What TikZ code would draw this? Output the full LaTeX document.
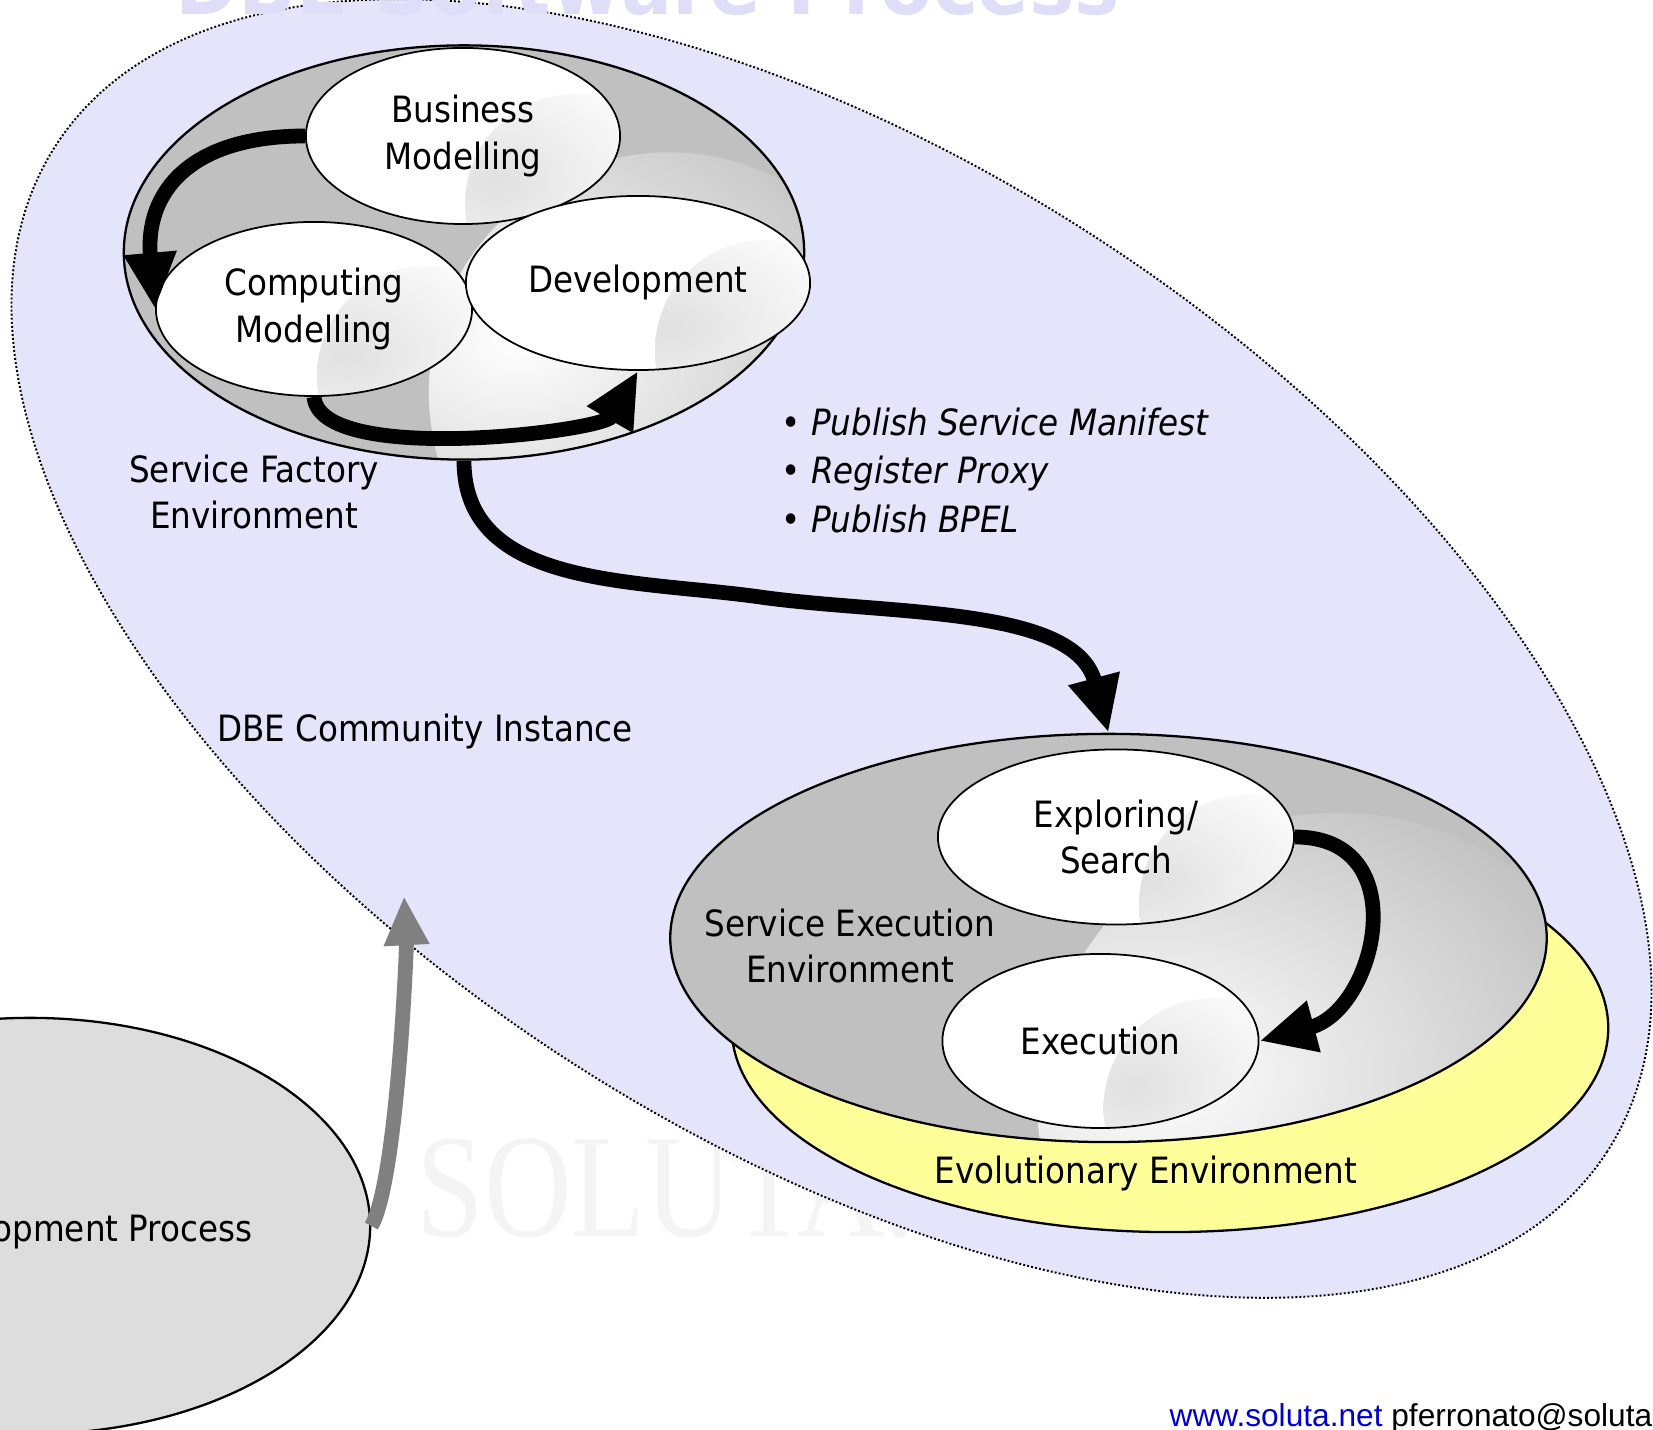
\documentclass[tikz,border=0pt]{standalone}
\usepackage{fontspec}
\setmainfont{DejaVu Sans Condensed}[BoldFont={DejaVu Sans Condensed Bold},ItalicFont={DejaVu Sans Condensed Oblique}]
\newfontfamily\footerfont{Liberation Sans}
\newfontfamily\markfont{Liberation Serif}
\usetikzlibrary{
    arrows.meta,
    shapes.geometric,
    calc
}
\definecolor{communityfill}{HTML}{E4E4FA}
\definecolor{titlefill}{HTML}{DEDEF8}
\definecolor{envgrey}{HTML}{C0C0C0}
\definecolor{evofill}{HTML}{FFFF99}
\definecolor{processfill}{HTML}{DDDDDD}
\definecolor{arrowgrey}{HTML}{808080}
\definecolor{linkblue}{HTML}{0000CC}
\definecolor{markgrey}{HTML}{F4F4F4}

\begin{document}
\begin{tikzpicture}[x=0.01cm, y=0.01cm,
    font=\fontsize{10.3pt}{13.2pt}\selectfont,
    env/.style={ellipse, draw, line width=0.65pt, inner sep=0pt},
    stage/.style={ellipse, draw, fill=white, line width=0.5pt, inner sep=0pt,
        minimum height=1.74cm, align=center,
        path picture={\shade[inner color=black!12, outer color=white]
            ($(path picture bounding box.south east)+(-45,20)$) circle (1.1cm);}},
    flow/.style={line width=4.2pt, -{Triangle[length=16pt, width=14pt]}},
    envtext/.style={align=center}]
    \useasboundingbox (0,0) rectangle (1653,1430);
    \clip (0,0) rectangle (1653,1430);
    \node[anchor=base west, inner sep=0pt, text=markgrey,
        font=\markfont\fontsize{42pt}{42pt}\selectfont] (watermark) at (416,193)
        {\scalebox{0.82}[1]{SOLUTA.}};
    \node[ellipse, draw, fill=communityfill, line width=0.55pt,
        dash pattern=on 0.55pt off 0.6pt, inner sep=0pt,
        minimum width=18.48cm, minimum height=9.77cm, rotate=-33] (community) at (831.5,781.5) {};
    \node[anchor=base west, inner sep=0pt, text=titlefill,
        font=\fontsize{24pt}{24pt}\selectfont\bfseries] (title) at (175,1415) {DBE Software Process};
    \node[env, fill=processfill, minimum width=6.8cm, minimum height=4.16cm] (dp) at (30,204) {};
    \node[anchor=east, inner sep=0pt] (dptext) at (253,198) {Development Process};
    \node[env, fill=evofill, minimum width=8.76cm, minimum height=4.08cm] (evo) at (1170,402) {};
    \node[env, fill=envgrey, minimum width=8.76cm, minimum height=4.08cm,
        path picture={\shade[inner color=white, outer color=envgrey]
            ($(path picture bounding box.center)+(230,-175)$) circle (3cm);}] (se) at (1108.5,492) {};
    \node[env, fill=envgrey, minimum width=6.8cm, minimum height=4.14cm,
        path picture={\shade[inner color=white, outer color=envgrey]
            ($(path picture bounding box.center)+(205,-140)$) circle (2.4cm);}] (sf) at (464,1177.5) {};
    \node[stage, minimum width=3.14cm, minimum height=1.76cm] (bm) at (463,1294) {Business\\Modelling};
    \node[stage, minimum width=3.16cm] (cm) at (314,1121) {Computing\\Modelling};
    \node[stage, minimum width=3.44cm] (dev) at (638,1147) {Development};
    \node[stage, minimum width=3.56cm, minimum height=1.75cm] (es) at (1116,593) {Exploring/\\Search};
    \node[stage, minimum width=3.16cm] (exe) at (1100.5,389) {Execution};
    \coordinate (bend) at (760,833);
    \coordinate (up) at (404,534);
    \draw[flow] (bm.west) to[out=180, in=95, looseness=1.3] (cm.west);
    \draw[flow] (cm.south) to[out=-85, in=-120, looseness=0.55] (dev.south);
    \draw[flow] (sf.south) to[out=-90, in=172] (bend) to[out=-8, in=105, looseness=0.9] (se.north);
    \draw[flow] (es.east) to[out=0, in=15, looseness=1.5] (exe.east);
    \draw[flow, draw=arrowgrey, -{Triangle[length=14pt, width=12pt]}] (dp.east) to[out=60, in=-87, looseness=0.4] (up);
    \node[envtext] (sftext) at (254,938) {Service Factory\\Environment};
    \node[envtext] (setext) at (850,484) {Service Execution\\Environment};
    \node (evotext) at (1146,256) {Evolutionary Environment};
    \node (dbetext) at (425,698) {DBE Community Instance};
    \node[anchor=west, align=left, inner sep=0pt,
        font=\fontsize{10.3pt}{13.8pt}\selectfont] (tasks) at (781,959.5)
        {\textbullet\ \textit{Publish Service Manifest}\\
         \textbullet\ \textit{Register Proxy}\\
         \textbullet\ \textit{Publish BPEL}};
    \node[anchor=base west, inner sep=0pt, font=\footerfont\fontsize{9pt}{9pt}\selectfont] (footer) at (1169,3)
        {\textcolor{linkblue}{www.soluta.net} pferronato@soluta.net};
\end{tikzpicture}
\end{document}
